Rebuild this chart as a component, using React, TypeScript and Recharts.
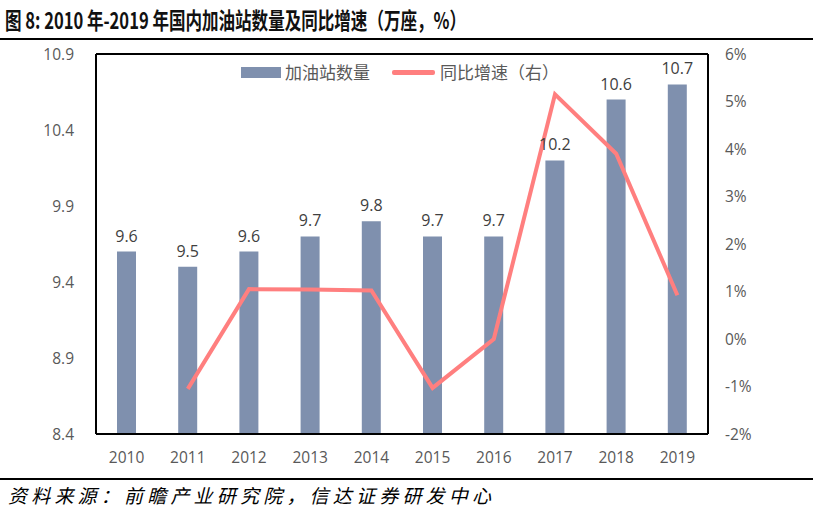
import React from "react";
import {
  ComposedChart,
  Bar,
  Line,
  XAxis,
  YAxis,
  LabelList,
  ReferenceLine,
} from "recharts";

const years = ["2010", "2011", "2012", "2013", "2014", "2015", "2016", "2017", "2018", "2019"];
const stations = [9.6, 9.5, 9.6, 9.7, 9.8, 9.7, 9.7, 10.2, 10.6, 10.7];
const growth: (number | null)[] = [null, -1.05, 1.05, 1.04, 1.02, -1.03, 0.0, 5.15, 3.9, 0.92];
const leftTicks = [8.4, 8.9, 9.4, 9.9, 10.4, 10.9];
const rightTicks = [-2, -1, 0, 1, 2, 3, 4, 5, 6];

const data = years.map((year, i) => ({ year, stations: stations[i], growth: growth[i] }));

const tickFont = { fontFamily: "'Open Sans', sans-serif", fontSize: 15.5, fill: "#595959" };
const cjk = "'Noto Sans CJK SC', sans-serif";

function ChartLegend() {
  return (
    <div
      style={{
        position: "absolute",
        top: 60,
        left: 241,
        display: "flex",
        alignItems: "center",
        fontFamily: cjk,
        fontSize: 17,
        lineHeight: "24px",
        color: "#595959",
      }}
    >
      <span style={{ width: 40, height: 11, background: "#7F90AE", marginRight: 4 }} />
      <span style={{ marginRight: 22 }}>加油站数量</span>
      <span style={{ width: 43, height: 5, background: "#FF7F7F", borderRadius: 2, marginRight: 5 }} />
      <span>同比增速（右）</span>
    </div>
  );
}

export default function App() {
  return (
    <div style={{ position: "absolute", top: 0, left: 0, width: 813, height: 513, background: "#fff" }}>
      <div
        style={{
          position: "absolute",
          top: 3,
          left: 5,
          fontFamily: cjk,
          fontWeight: 700,
          fontSize: 22.5,
          color: "#111",
          whiteSpace: "nowrap",
          transform: "scaleX(0.735)",
          transformOrigin: "left",
          lineHeight: "32px",
        }}
      >
        图 8: 2010 年-2019 年国内加油站数量及同比增速（万座，%）
      </div>
      <div style={{ position: "absolute", top: 38, left: 0, width: 813, height: 2, background: "#000" }} />

      <ComposedChart
        width={813}
        height={513}
        data={data}
        margin={{ top: 54, right: 45, bottom: 49, left: 36 }}
      >
        <XAxis
          dataKey="year"
          tickLine={false}
          tickSize={0}
          tickMargin={18}
          height={30}
          axisLine={{ stroke: "#000", strokeWidth: 2 }}
          tick={tickFont}
        />
        <YAxis
          yAxisId="left"
          domain={[8.4, 10.9]}
          ticks={leftTicks}
          width={60}
          tickLine={false}
          tickSize={0}
          tickMargin={22}
          axisLine={{ stroke: "#000", strokeWidth: 2 }}
          tick={tickFont}
          interval={0}
        />
        <YAxis
          yAxisId="right"
          orientation="right"
          domain={[-2, 6]}
          ticks={rightTicks}
          width={60}
          tickLine={false}
          tickSize={0}
          tickMargin={17}
          axisLine={{ stroke: "#000", strokeWidth: 2 }}
          tick={tickFont}
          tickFormatter={(v: number) => `${v}%`}
          interval={0}
        />
        <ReferenceLine yAxisId="left" y={10.9} stroke="#000" strokeWidth={2} />
        <Bar yAxisId="left" dataKey="stations" fill="#7F90AE" barSize={19} isAnimationActive={false}>
          <LabelList
            dataKey="stations"
            position="top"
            offset={10}
            style={{ fontFamily: "'Open Sans', sans-serif", fontSize: 16, fill: "#404040" }}
          />
        </Bar>
        <Line
          yAxisId="right"
          dataKey="growth"
          type="linear"
          stroke="#FF7F7F"
          strokeWidth={4}
          dot={false}
          isAnimationActive={false}
        />
      </ComposedChart>

      <ChartLegend />

      <div style={{ position: "absolute", top: 478, left: 0, width: 813, height: 2, background: "#000" }} />
      <div
        style={{
          position: "absolute",
          top: 481,
          left: 8,
          fontFamily: cjk,
          fontStyle: "italic",
          fontSize: 19,
          letterSpacing: 4.2,
          color: "#000",
          whiteSpace: "nowrap",
          lineHeight: "28px",
        }}
      >
        资料来源：前瞻产业研究院，信达证券研发中心
      </div>
    </div>
  );
}
